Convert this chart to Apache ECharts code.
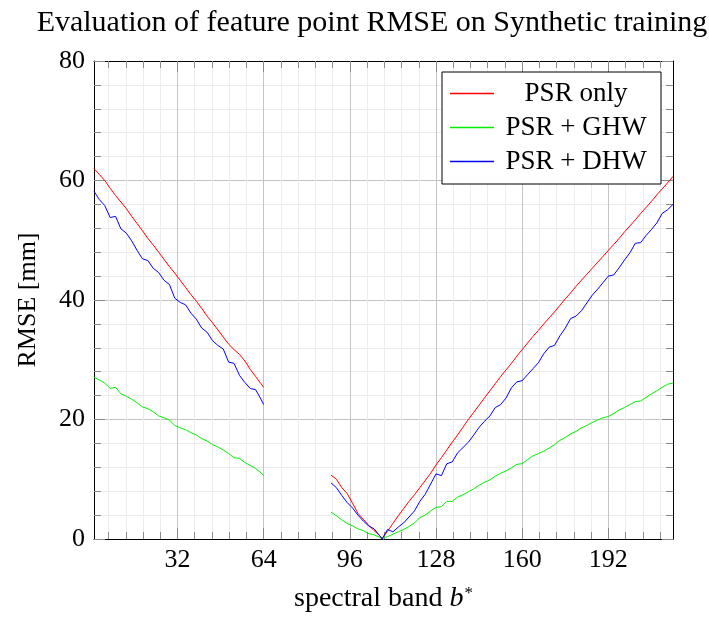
<!DOCTYPE html>
<html>
<head>
<meta charset="utf-8">
<title>Feature point RMSE</title>
<script src="https://cdn.jsdelivr.net/npm/echarts@6/dist/echarts.min.js"></script>
<style>
  html, body { margin: 0; padding: 0; background: #fff; }
  #chart { width: 709px; height: 618px; }
</style>
</head>
<body>
<div id="chart"></div>
<script>
// spectral bands (76 is the start of the missing band range -> null)
var bands = [1, 3, 5, 7, 9, 11, 13, 15, 17, 19, 21, 23, 25, 27, 29, 31, 33, 35, 37, 39, 41, 43, 45, 47, 49, 51, 53, 55, 57, 59, 61, 63, 64,
  76,
  89, 91, 93, 95, 97, 99, 101, 103, 105, 107, 108,
  110, 112, 114, 116, 118, 120, 122, 124, 126, 128, 130, 132, 134, 136, 138, 140, 142, 144, 146, 148, 150, 152, 154, 156, 158, 160,
  162, 164, 166, 168, 170, 172, 174, 176, 178, 180, 182, 184, 186, 188, 190, 192, 194, 196, 198, 200, 202, 204, 206, 208, 210, 212, 214, 216];

var psrOnly = [62.0, 61.0, 60.0, 58.7, 57.5, 56.4, 55.3, 54.0, 52.8, 51.6, 50.3, 49.2, 48.0, 46.8, 45.6, 44.5, 43.3, 42.1, 40.9, 39.8, 38.6, 37.3, 36.2, 35.0, 33.8, 32.6, 31.7, 30.9, 29.8, 28.4, 27.2, 26.0, 25.4,
  null,
  10.7, 10.0, 8.6, 7.6, 6.0, 4.3, 3.3, 2.3, 1.4, 0.6, 0.1,
  1.3, 2.6, 3.9, 5.1, 6.3, 7.4, 8.6, 9.8, 11.0, 12.4, 13.6, 14.9, 16.2, 17.4, 18.7, 20.0, 21.2, 22.4, 23.6, 24.8, 26.0, 27.2, 28.3, 29.4, 30.6, 31.7,
  32.8, 33.9, 34.9, 36.0, 37.0, 38.0, 39.1, 40.2, 41.2, 42.3, 43.3, 44.3, 45.3, 46.3, 47.3, 48.3, 49.3, 50.3, 51.4, 52.4, 53.4, 54.5, 55.5, 56.5, 57.6, 58.6, 59.6, 60.7];

var psrGhw = [27.1, 26.6, 26.1, 25.2, 25.4, 24.3, 23.9, 23.4, 22.8, 22.1, 21.8, 21.3, 20.6, 20.3, 19.9, 19.0, 18.6, 18.3, 17.8, 17.4, 16.8, 16.4, 15.8, 15.4, 14.9, 14.3, 13.6, 13.5, 12.8, 12.3, 11.8, 11.1, 10.6,
  null,
  4.5, 3.9, 3.2, 2.6, 2.2, 1.7, 1.4, 0.9, 0.7, 0.3, 0.1,
  0.4, 0.8, 1.2, 1.6, 2.1, 2.7, 3.6, 4.0, 4.7, 5.3, 5.4, 6.3, 6.3, 7.0, 7.4, 7.9, 8.4, 9.0, 9.5, 9.9, 10.5, 11.0, 11.4, 11.9, 12.5, 12.6,
  13.3, 13.9, 14.3, 14.7, 15.2, 15.8, 16.5, 17.0, 17.6, 18.0, 18.6, 19.0, 19.5, 19.9, 20.3, 20.5, 21.0, 21.6, 22.0, 22.5, 23.0, 23.1, 23.7, 24.3, 24.8, 25.4, 25.9, 26.1];

var psrDhw = [58.2, 56.8, 55.8, 53.8, 54.0, 51.9, 51.2, 49.9, 48.3, 46.9, 46.6, 45.3, 44.6, 43.3, 42.6, 40.3, 39.6, 39.2, 37.8, 36.8, 35.3, 34.6, 33.2, 32.4, 31.8, 29.6, 29.4, 27.4, 26.2, 25.2, 25.0, 23.4, 22.5,
  null,
  9.4, 8.6, 7.3, 6.1, 5.2, 4.0, 3.0, 2.2, 1.7, 0.6, 0.0,
  1.6, 1.2, 2.0, 2.7, 3.7, 4.7, 6.3, 7.5, 9.2, 10.9, 10.6, 12.6, 12.9, 14.4, 15.3, 16.2, 17.4, 18.7, 19.7, 20.6, 22.0, 22.5, 23.6, 25.3, 26.3, 26.5,
  27.5, 28.5, 29.5, 31.0, 32.1, 32.4, 34.0, 35.3, 36.9, 37.3, 38.2, 39.5, 40.8, 41.8, 42.9, 44.0, 44.2, 45.4, 46.7, 47.9, 49.5, 49.6, 50.8, 51.8, 52.9, 54.5, 55.1, 56.0];

var seriesNames = ['PSR only', 'PSR + GHW', 'PSR + DHW'];
var seriesColors = ['#ff0000', '#00f000', '#0000ff'];

var xMajorTicks = [32, 64, 96, 128, 160, 192];
var xMinorTicks = [6.4, 12.8, 19.2, 25.6, 38.4, 44.8, 51.2, 57.6, 70.4, 76.8, 83.2, 89.6, 102.4, 108.8, 115.2, 121.6,
  134.4, 140.8, 147.2, 153.6, 166.4, 172.8, 179.2, 185.6, 198.4, 204.8, 211.2];

var FONT = "'Liberation Serif', serif";
var TICK_COLOR = '#8a8a8a';

function pairs(vals) {
  return bands.map(function(b, i) { return [b, vals[i]]; });
}

function xAxisDef(position, ticks, tickLen, opts) {
  var ax = {
    type: 'value',
    position: position,
    min: 1,
    max: 216,
    axisLine: {show: !!opts.line, lineStyle: {color: '#000', width: 1}},
    axisTick: {show: true, inside: true, length: tickLen, customValues: ticks, lineStyle: {color: TICK_COLOR}},
    axisLabel: {show: false},
    splitLine: {show: false}
  };
  if (opts.label) {
    ax.axisLabel = {show: true, customValues: ticks, fontFamily: FONT, fontSize: 26, color: '#000', margin: 8};
  }
  if (opts.split) {
    ax.splitLine = {show: true, lineStyle: {color: opts.split, width: 1}};
  }
  return ax;
}

var chart = echarts.init(document.getElementById('chart'));

chart.setOption({
  animation: false,
  backgroundColor: '#fff',
  title: {
    text: 'Evaluation of feature point RMSE on Synthetic training',
    left: 367,
    top: 3,
    textAlign: 'center',
    textStyle: {fontFamily: FONT, fontSize: 30, fontWeight: 'normal', color: '#000'}
  },
  legend: {
    data: seriesNames.map(function(name, k) {
      return {
        name: name,
        icon: 'path://M0,0H88V3H0Z',
        itemStyle: {color: seriesColors[k], opacity: 1, borderWidth: 0}
      };
    }),
    orient: 'vertical',
    left: 442,
    top: 72,
    padding: [8, 8, 9, 8],
    itemGap: 7,
    itemWidth: 44,
    itemHeight: 1.5,
    backgroundColor: '#fff',
    borderColor: '#000',
    borderWidth: 1,
    borderRadius: 0,
    formatter: function(name) { return '{t|' + name + '}'; },
    textStyle: {
      rich: {
        t: {fontFamily: FONT, fontSize: 27, lineHeight: 26, color: '#000', width: 154, align: 'center'}
      }
    }
  },
  grid: {left: 94, right: 36, top: 61, bottom: 74},
  xAxis: [
    (function() {
      var a = xAxisDef('bottom', xMajorTicks, 11, {line: true, label: true, split: '#c4c4c4'});
      a.name = '{n|spectral band }{i|b}{s|*}';
      a.nameLocation = 'middle';
      a.nameGap = 46;
      a.nameTextStyle = {
        rich: {
          n: {fontFamily: FONT, fontSize: 28, color: '#000'},
          i: {fontFamily: FONT, fontSize: 28, fontStyle: 'italic', color: '#000'},
          s: {fontFamily: FONT, fontSize: 17, color: '#000', verticalAlign: 'top', padding: [0, 0, 10, 1]}
        }
      };
      return a;
    })(),
    xAxisDef('bottom', xMinorTicks, 7, {split: '#ececec'}),
    xAxisDef('top', xMajorTicks, 11, {line: true}),
    xAxisDef('top', xMinorTicks, 7, {})
  ],
  yAxis: [
    {
      type: 'value',
      position: 'left',
      min: 0,
      max: 80,
      interval: 20,
      name: 'RMSE [mm]',
      nameLocation: 'middle',
      nameGap: 53,
      nameTextStyle: {fontFamily: FONT, fontSize: 26, color: '#000'},
      axisLine: {show: true, lineStyle: {color: '#000', width: 1}},
      axisTick: {show: true, inside: true, length: 11, lineStyle: {color: TICK_COLOR}},
      minorTick: {show: true, splitNumber: 5, length: 7, lineStyle: {color: TICK_COLOR}},
      axisLabel: {fontFamily: FONT, fontSize: 26, color: '#000', margin: 9},
      splitLine: {show: true, lineStyle: {color: '#c4c4c4', width: 1}},
      minorSplitLine: {show: true, lineStyle: {color: '#ececec', width: 1}}
    },
    {
      type: 'value',
      position: 'right',
      min: 0,
      max: 80,
      interval: 20,
      axisLine: {show: true, lineStyle: {color: '#000', width: 1}},
      axisTick: {show: true, inside: true, length: 11, lineStyle: {color: TICK_COLOR}},
      minorTick: {show: true, splitNumber: 5, length: 7, lineStyle: {color: TICK_COLOR}},
      axisLabel: {show: false},
      splitLine: {show: false}
    }
  ],
  series: seriesNames.map(function(name, k) {
    var vals = [psrOnly, psrGhw, psrDhw][k];
    return {
      name: name,
      type: 'line',
      xAxisIndex: 0,
      yAxisIndex: 0,
      data: pairs(vals),
      symbol: 'none',
      connectNulls: false,
      color: seriesColors[k],
      itemStyle: {color: seriesColors[k]},
      lineStyle: {color: seriesColors[k], width: 1}
    };
  })
});

window.addEventListener('resize', function() {
  chart.resize();
});
</script>
</body>
</html>
